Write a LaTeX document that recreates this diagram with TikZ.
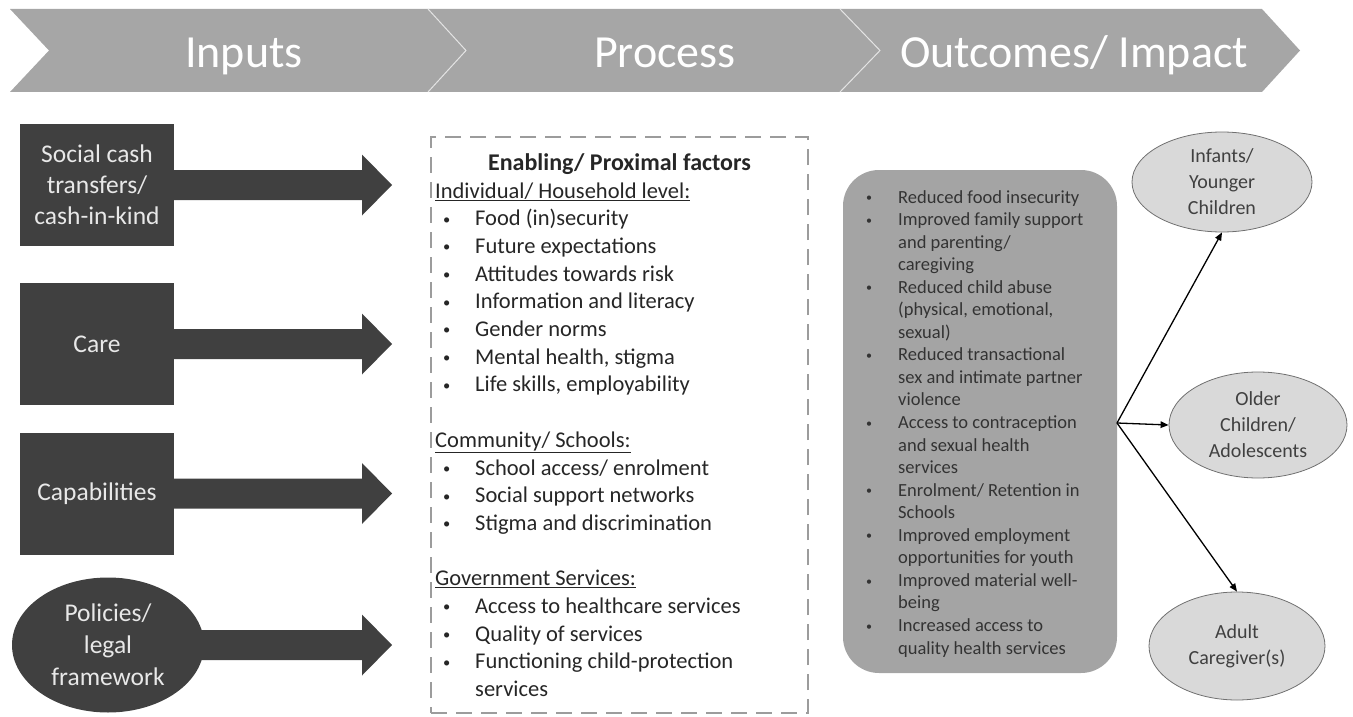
\documentclass[tikz,border=0pt]{standalone}
\usepackage{fontspec}
\setmainfont{Carlito}
\usetikzlibrary{shapes.geometric,arrows.meta,calc}
\definecolor{banner}{HTML}{A6A6A6}
\definecolor{darkbox}{HTML}{404040}
\definecolor{boxtext}{HTML}{E8E8E8}
\definecolor{outfill}{HTML}{A4A4A4}
\definecolor{ellfill}{HTML}{D9D9D9}
\definecolor{elldraw}{HTML}{707070}
\definecolor{dashgray}{HTML}{9C9C9C}
\definecolor{ptext}{HTML}{262626}
\definecolor{otext}{HTML}{333333}
\definecolor{elltext}{HTML}{404040}

\newcommand\fatarrow[2]{%
  \fill[darkbox] ($(#1)+(0,-15)$) -- ($(#2)+(-30,-15)$) -- ($(#2)+(-30,-30.5)$) -- (#2)
    -- ($(#2)+(-30,30.5)$) -- ($(#2)+(-30,15)$) -- ($(#1)+(0,15)$) -- cycle;}
\newcommand\pitem[3]{%
  \node[ptxt, anchor=base west] (#1) at (475,{198+27.7*#2}) {#3};
  \node[ptxt, anchor=base west] (#1b) at (443,{198+27.7*#2}) {\raisebox{1.6pt}{\fontsize{14.5}{14.5}\selectfont\textbullet}};}
\newcommand\pline[3]{%
  \node[ptxt, anchor=base west] (#1) at (475,{198+27.7*#2}) {#3};}
\newcommand\phead[3]{%
  \node[ptxt, anchor=base west] (#1) at (435,{198+27.7*#2}) {\underline{#3}};}
\newcommand\oline[3]{%
  \node[otxt, anchor=base west] (#1) at (898,{203+22.55*#2}) {#3};}
\newcommand\oitem[3]{%
  \node[otxt, anchor=base west] (#1) at (898,{203+22.55*#2}) {#3};
  \node[otxt, anchor=base west] (#1b) at (866,{203+22.55*#2}) {\raisebox{1.3pt}{\fontsize{12}{12}\selectfont\textbullet}};}

\begin{document}
\begin{tikzpicture}[x=1pt,y=-1pt,
  bannertext/.style={text=white, font=\fontsize{46}{50}\selectfont, inner sep=0pt},
  inbox/.style={fill=darkbox, draw=none, minimum width=154pt, minimum height=122pt,
    inner sep=0pt, text=boxtext, align=center, font=\fontsize{25.5}{31}\selectfont},
  inell/.style={ellipse, fill=darkbox, draw=none, minimum width=192pt, minimum height=135pt,
    inner sep=0pt, text=boxtext, align=center, font=\fontsize{25.5}{32}\selectfont},
  ptxt/.style={text=ptext, inner sep=0pt, font=\fontsize{22.5}{27.7}\selectfont},
  otxt/.style={text=otext, inner sep=0pt, font=\fontsize{18.5}{22.5}\selectfont},
  ell/.style={ellipse, fill=ellfill, draw=elldraw, line width=0.8pt, inner sep=0pt,
    text=elltext, align=center, font=\fontsize{20}{26}\selectfont},
  conn/.style={draw=black, line width=1.3pt, -{Triangle[length=8pt,width=6.5pt]}},
  divider/.style={draw=white!70!banner, line width=1pt}]
\useasboundingbox (0,0) rectangle (1353,717);

% banner
\fill[banner] (10,9) -- (1262,9) -- (1300,50.5) -- (1262,92) -- (10,92) -- (49,50.5) -- cycle;
\draw[divider] (428,9) -- (466,50.5) -- (428,92);
\draw[divider] (840,9) -- (880,50.5) -- (840,92);
\node[bannertext, anchor=base] (tin) at (244,67) {Inputs};
\node[bannertext, anchor=base] (tpr) at (665,67) {Process};
\node[bannertext, anchor=base] (tou) at (1074,67) {Outcomes/ Impact};

% inputs
\node[inbox] (b1) at (97,185) {Social cash\\transfers/\\cash-in-kind};
\node[inbox] (b2) at (97,344) {Care};
\node[inbox] (b3) at (97,493.5) {Capabilities};
\node[inell] (b4) at (108,645) {Policies/\\legal\\framework};
\coordinate (t1) at (392,185);
\coordinate (t2) at (392,344);
\coordinate (t3) at (392,493.5);
\coordinate (t4) at (392,645);
\coordinate (s4) at ($(b4.east)+(-4,0)$);
\fatarrow{b1.east}{t1}
\fatarrow{b2.east}{t2}
\fatarrow{b3.east}{t3}
\fatarrow{s4}{t4}

% process box
\node[draw=dashgray, dash pattern=on 16pt off 9pt, line width=2.8pt,
  minimum width=377pt, minimum height=576pt, inner sep=0pt] (pbox) at (619.5,425) {};
\node[ptxt, anchor=base, font=\fontsize{24}{28}\selectfont\bfseries] (ph) at (619.5,170) {Enabling/ Proximal factors};
\phead{h1}{0}{Individual/ Household level:}
\pitem{p1}{1}{Food (in)security}
\pitem{p2}{2}{Future expectations}
\pitem{p3}{3}{Attitudes towards risk}
\pitem{p4}{4}{Information and literacy}
\pitem{p5}{5}{Gender norms}
\pitem{p6}{6}{Mental health, stigma}
\pitem{p7}{7}{Life skills, employability}
\phead{h2}{9}{Community/ Schools:}
\pitem{p8}{10}{School access/ enrolment}
\pitem{p9}{11}{Social support networks}
\pitem{p10}{12}{Stigma and discrimination}
\phead{h3}{14}{Government Services:}
\pitem{p11}{15}{Access to healthcare services}
\pitem{p12}{16}{Quality of services}
\pitem{p13}{17}{Functioning child-protection}
\pline{p14}{18}{services}

% outcomes box
\node[fill=outfill, draw=none, rounded corners=36pt, minimum width=274pt,
  minimum height=503pt, inner sep=0pt] (ob) at (980,421.5) {};
\oitem{o0}{0}{Reduced food insecurity}
\oitem{o1}{1}{Improved family support}
\oline{o2}{2}{and parenting/}
\oline{o3}{3}{caregiving}
\oitem{o4}{4}{Reduced child abuse}
\oline{o5}{5}{(physical, emotional,}
\oline{o6}{6}{sexual)}
\oitem{o7}{7}{Reduced transactional}
\oline{o8}{8}{sex and intimate partner}
\oline{o9}{9}{violence}
\oitem{o10}{10}{Access to contraception}
\oline{o11}{11}{and sexual health}
\oline{o12}{12}{services}
\oitem{o13}{13}{Enrolment/ Retention in}
\oline{o14}{14}{Schools}
\oitem{o15}{15}{Improved employment}
\oline{o16}{16}{opportunities for youth}
\oitem{o17}{17}{Improved material well-}
\oline{o18}{18}{being}
\oitem{o19}{19}{Increased access to}
\oline{o20}{20}{quality health services}

% target groups
\node[ell, minimum width=180pt, minimum height=100pt] (e1) at (1222,182) {Infants/\\Younger\\Children};
\node[ell, minimum width=178pt, minimum height=106pt] (e2) at (1258,425) {Older\\Children/\\Adolescents};
\node[ell, minimum width=176pt, minimum height=108pt] (e3) at (1237,646) {Adult\\Caregiver(s)};
\coordinate (br) at (1117,423);
\draw[conn] (br) -- (e1.south);
\draw[conn] (br) -- (e2.west);
\draw[conn] (br) -- (e3.north);
\end{tikzpicture}
\end{document}
